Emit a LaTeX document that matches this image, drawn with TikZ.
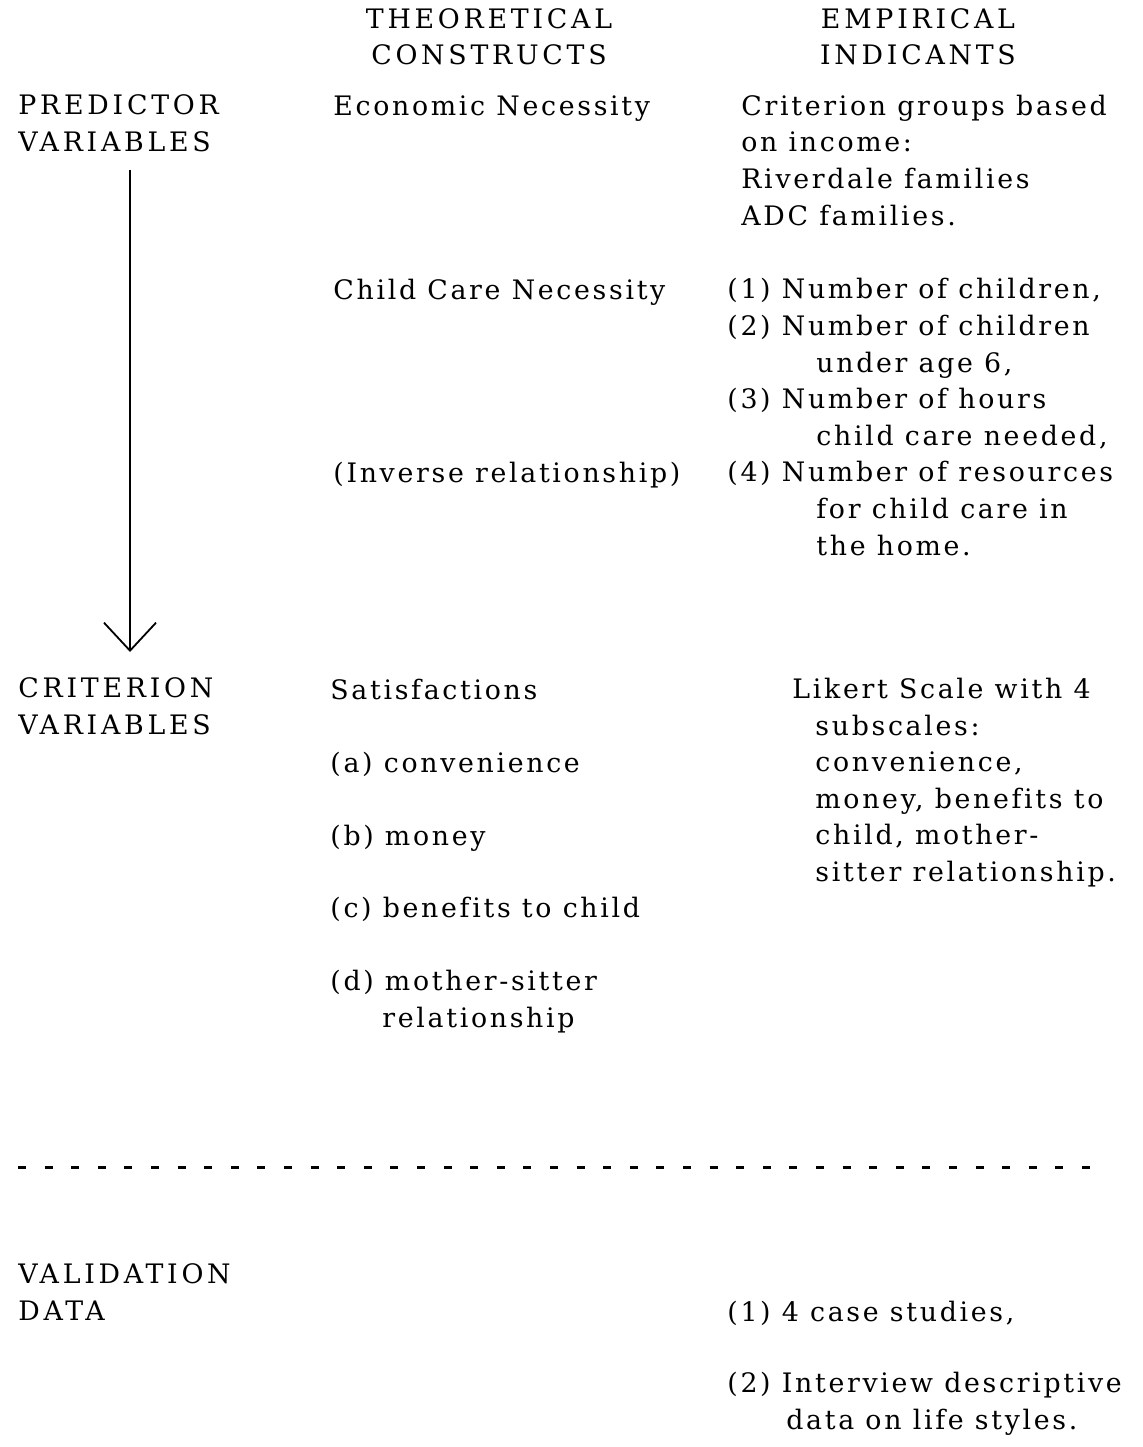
\documentclass[tikz,border=0pt]{standalone}
\usepackage{fontspec}
\setmainfont[LetterSpace=10,Ligatures=CommonOff]{DejaVu Serif}
\newfontfamily\capsfont[LetterSpace=14,Ligatures=CommonOff]{DejaVu Serif}
\usetikzlibrary{arrows.meta}
\begin{document}
\begin{tikzpicture}[x=0.5pt,y=-0.5pt,
  txt/.style={anchor=base west,inner sep=0pt,align=left,font=\fontsize{13.4}{18.3}\selectfont},
  captxt/.style={txt,font=\fontsize{13.4}{18.3}\capsfont},
  hd/.style={anchor=base,inner sep=0pt,align=center,font=\fontsize{13.4}{18}\capsfont},
  dashline/.style={line width=1.5pt,dash pattern=on 4pt off 9.3pt},
  arrowline/.style={line width=0.9pt,-{Straight Barb[length=14pt,width=26pt,line width=0.9pt]}}]
\useasboundingbox (0,0) rectangle (1142,1447);
% headers (anchored at the baseline of the last line)
\node[hd] (hth) at (489,64) {THEORETICAL\\CONSTRUCTS};
\node[hd] (hem) at (918,64) {EMPIRICAL\\INDICANTS};
% predictor
\node[captxt] (pv) at (18,151.5) {PREDICTOR\\VARIABLES};
\node[txt] (econ) at (333,115) {Economic Necessity};
\node[txt] (crit) at (741,225) {Criterion groups based\\on income:\\Riverdale families\\ADC families.};
\node[txt] (ccn) at (333,299) {Child Care Necessity};
\node[txt] (inv) at (333,482) {(Inverse relationship)};
\node[txt] (nums) at (727,555) {(1) Number of children,\\(2) Number of children\\\hspace*{44.5pt}under age 6,\\(3) Number of hours\\\hspace*{44.5pt}child care needed,\\(4) Number of resources\\\hspace*{44.5pt}for child care in\\\hspace*{44.5pt}the home.};
% criterion
\node[captxt] (cv) at (18,734.5) {CRITERION\\VARIABLES};
\node[txt] (sat) at (330,699) {Satisfactions};
\node[txt] (sa) at (330,772) {(a) convenience};
\node[txt] (sb) at (330,845) {(b) money};
\node[txt] (sc) at (330,917) {(c) benefits to child};
\node[txt] (sd) at (330,1027) {(d) mother-sitter\\\hspace*{26pt}relationship};
\node[txt] (lik) at (792,881.5) {Likert Scale with 4\\\hspace*{11.5pt}subscales:\\\hspace*{11.5pt}convenience,\\\hspace*{11.5pt}money, benefits to\\\hspace*{11.5pt}child, mother-\\\hspace*{11.5pt}sitter relationship.};
% arrow
\coordinate (atop) at (130,170);
\coordinate (abot) at (130,652);
\draw[arrowline] (atop) -- (abot);
% dashed separator
\coordinate (dl) at (18,1167);
\coordinate (dr) at (1108,1167);
\draw[dashline] (dl) -- (dr);
% validation
\node[captxt] (vd) at (18,1320.5) {VALIDATION\\DATA};
\node[txt] (v1) at (727,1321) {(1) 4 case studies,};
\node[txt] (v2) at (727,1429.5) {(2) Interview descriptive\\\hspace*{29.5pt}data on life styles.};
\end{tikzpicture}
\end{document}
